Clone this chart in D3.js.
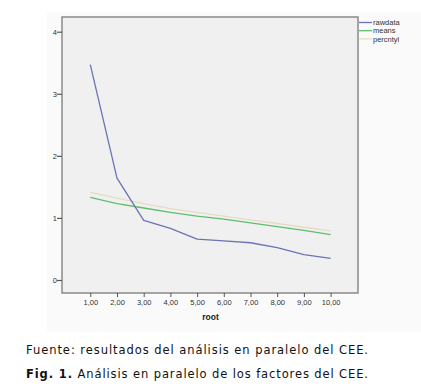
<!DOCTYPE html>
<html><head><meta charset="utf-8">
<script src="https://cdn.jsdelivr.net/npm/d3@7"></script>
<style>body{margin:0;background:#fff}svg{display:block}</style>
</head><body>
<svg id="c" width="421" height="390"></svg>
<script>
const roots = [1,2,3,4,5,6,7,8,9,10];
const xTickLabels = ["1,00","2,00","3,00","4,00","5,00","6,00","7,00","8,00","9,00","10,00"];
const yTicks = [0,1,2,3,4];
const rawdata = [3.47,1.64,0.96,0.83,0.66,0.63,0.60,0.52,0.41,0.35];
const means   = [1.33,1.23,1.16,1.09,1.03,0.98,0.92,0.86,0.80,0.73];
const percntyl= [1.41,1.32,1.23,1.15,1.09,1.03,0.97,0.91,0.85,0.79];
const seriesNames = ["rawdata","means","percntyl"];
const seriesColors = ["#6a74b4","#5cbf6c","#e6dcc4"];

const svg = d3.select("#c");
svg.append("rect").attr("x",47).attr("y",12).attr("width",374).attr("height",320).attr("fill","#fafafa");

const box = {l:62, t:17, r:358, b:293};
const x = d3.scaleLinear().domain([1,10]).range([90.3,330.6]);
const y = d3.scaleLinear().domain([0,4]).range([280,31.7]);

svg.append("rect").attr("x",box.l).attr("y",box.t).attr("width",box.r-box.l).attr("height",box.b-box.t)
  .attr("fill","#f0f0f0").attr("stroke","#8a8a8a").attr("stroke-width",1.5);

const yAxis = d3.axisLeft(y).tickValues(yTicks).tickSize(5).tickFormat(d3.format("d"));
const ga = svg.append("g").attr("transform",`translate(${box.l},0)`).call(yAxis);
ga.select(".domain").remove();
ga.selectAll("line").attr("stroke","#555").attr("stroke-width",1.2);
ga.selectAll("text").attr("font-family","Liberation Sans, Arial").attr("font-size",7.5).attr("fill","#333").attr("x",-5);

const xAxis = d3.axisBottom(x).tickValues(roots).tickSize(4).tickFormat((d,i)=>xTickLabels[i]);
const gx = svg.append("g").attr("transform",`translate(0,${box.b})`).call(xAxis);
gx.select(".domain").remove();
gx.selectAll("line").attr("stroke","#555").attr("stroke-width",1);
gx.selectAll("text").attr("font-family","Liberation Sans, Arial").attr("font-size",7.5).attr("fill","#333").attr("y",7);

svg.append("text").attr("x",210.5).attr("y",320).attr("text-anchor","middle")
  .attr("font-family","Liberation Sans, Arial").attr("font-size",8.5).attr("font-weight","bold").attr("fill","#222").text("root");

const line = d3.line().x((d,i)=>x(roots[i])).y(d=>y(d));
[percntyl, means, rawdata].forEach((s,k)=>{
  const idx = 2-k;
  svg.append("path").datum(s).attr("d",line).attr("fill","none")
    .attr("stroke",seriesColors[idx]).attr("stroke-width",1.3).attr("stroke-linejoin","round");
});

seriesNames.forEach((n,i)=>{
  const ly = 22.5 + i*8.2;
  svg.append("line").attr("x1",359).attr("x2",372).attr("y1",ly).attr("y2",ly)
    .attr("stroke",seriesColors[i]).attr("stroke-width",1.3);
  svg.append("text").attr("x",373).attr("y",ly+2.7).attr("font-family","Liberation Sans, Arial")
    .attr("font-size",7.5).attr("fill","#333").text(n);
});

svg.append("text").attr("x",26).attr("y",354).attr("font-family","DejaVu Sans, Verdana")
  .attr("font-size",11.5).attr("fill","#111").attr("textLength",342).attr("lengthAdjust","spacing")
  .text("Fuente: resultados del análisis en paralelo del CEE.");
const cap = svg.append("text").attr("x",26).attr("y",378).attr("font-family","DejaVu Sans, Verdana")
  .attr("font-size",11.5).attr("fill","#111").attr("textLength",342).attr("lengthAdjust","spacing");
cap.append("tspan").attr("font-weight","bold").text("Fig. 1.");
cap.append("tspan").text(" Análisis en paralelo de los factores del CEE.");
</script>
</body></html>
